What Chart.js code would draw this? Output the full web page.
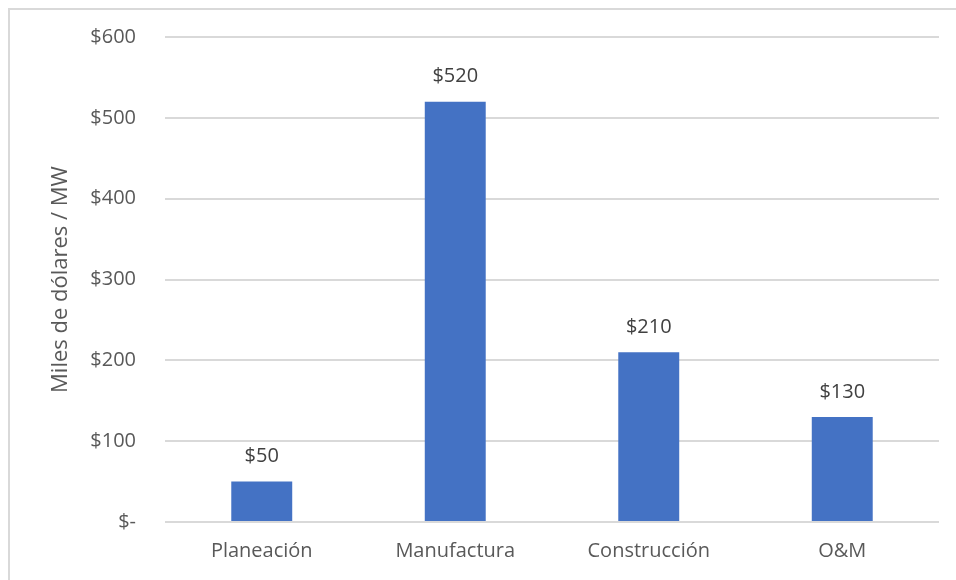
<!DOCTYPE html>
<html>
<head>
<meta charset="utf-8">
<script src="https://cdn.jsdelivr.net/npm/chart.js@4"></script>
<style>
  html, body { margin: 0; padding: 0; background: #fff; overflow: hidden; }
  #frame { position: absolute; left: 8px; top: 8px; width: 1000px; height: 640px; border: 2px solid #d9d9d9; }
  #wrap { position: absolute; left: 0; top: 0; width: 956px; height: 580px; }
</style>
</head>
<body>
<div id="frame"></div>
<div id="wrap"><canvas id="chart"></canvas></div>
<script>
const etapas = ['Planeación', 'Manufactura', 'Construcción', 'O&M'];
const costos = [50, 520, 210, 130];
const ejeY = [0, 100, 200, 300, 400, 500, 600];

const fuente = "'Open Sans', sans-serif";

function dinero(v) {
    return v === 0 ? '$-' : '$' + v;
}

// etiquetas de valor encima de cada barra
const etiquetasBarras = {
    id: 'etiquetasBarras',
    afterDatasetsDraw(chart) {
        const ctx = chart.ctx;
        ctx.save();
        ctx.font = '20px ' + fuente;
        ctx.fillStyle = '#404040';
        ctx.textAlign = 'center';
        ctx.textBaseline = 'middle';
        chart.getDatasetMeta(0).data.forEach((bar, i) => {
            ctx.fillText(dinero(costos[i]), bar.x, bar.y - 25);
        });
        ctx.restore();
    }
};

new Chart(document.getElementById('chart'), {
    type: 'bar',
    data: {
        labels: etapas,
        datasets: [{
            data: costos,
            backgroundColor: '#4472c4',
            barPercentage: 0.315,
            categoryPercentage: 1
        }]
    },
    options: {
        responsive: true,
        maintainAspectRatio: false,
        animation: false,
        layout: { padding: { left: 48, right: 17, top: 37, bottom: 0 } },
        plugins: {
            legend: { display: false },
            tooltip: { enabled: false }
        },
        scales: {
            x: {
                grid: { display: false, drawTicks: false },
                border: { display: false },
                ticks: { padding: 17, color: '#595959', font: { family: fuente, size: 20 } },
                afterFit(scale) { scale.height = 58; }
            },
            y: {
                min: 0,
                max: 600,
                afterBuildTicks(scale) { scale.ticks = ejeY.map(v => ({ value: v })); },
                grid: { color: '#d9d9d9', lineWidth: 2, drawTicks: false },
                border: { display: false },
                ticks: {
                    padding: 29,
                    color: '#595959',
                    font: { family: fuente, size: 20 },
                    callback: v => dinero(v)
                },
                title: {
                    display: true,
                    text: 'Miles de dólares / MW',
                    color: '#595959',
                    font: { family: fuente, size: 22 },
                    padding: 0
                },
                afterFit(scale) {
                    scale.width = 117;
                    scale.paddingTop = 0;
                    scale.paddingBottom = 0;
                }
            }
        }
    },
    plugins: [etiquetasBarras]
});
</script>
</body>
</html>
